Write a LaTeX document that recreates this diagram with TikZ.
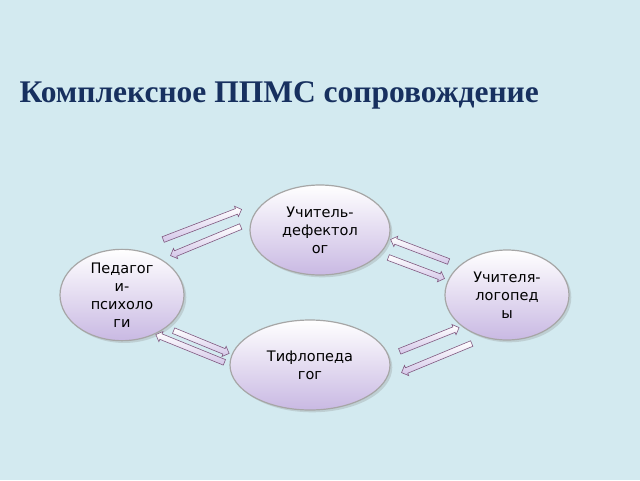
\documentclass[tikz,border=0pt]{standalone}
\usepackage{fontspec}
\setmainfont{Liberation Serif}
\newfontfamily\dv{DejaVu Sans}
\usetikzlibrary{shapes.arrows,shapes.geometric,shadows}
\definecolor{bg}{HTML}{D3EAF0}
\definecolor{lav}{HTML}{C9B9E3}
\definecolor{navy}{HTML}{17305F}
\tikzset{
 oval/.style={ellipse,draw=gray!70,line width=1.2pt,top color=white,bottom color=lav,drop shadow={opacity=0.25},align=center,font=\dv\fontsize{14.5}{18}\selectfont,inner sep=0pt},
 barrow/.style={single arrow,draw=gray!70!violet,line width=0.6pt,top color=white,bottom color=lav!80,minimum width=11pt,single arrow head extend=2.5pt,single arrow head indent=0pt,inner sep=2.6pt}
}
\begin{document}
\begin{tikzpicture}[x=1pt,y=-1pt]
\fill[bg] (0,0) rectangle (640,480);
\useasboundingbox (0,0) rectangle (640,480);
\node[anchor=west,text=navy,font=\bfseries\fontsize{31.5}{36}\selectfont] (title) at (16,95) {Комплексное ППМС сопровождение};
\node[oval,minimum width=140pt,minimum height=90pt] (td) at (320,230) {Учитель-\\дефектол\\ог};
\node[oval,minimum width=124pt,minimum height=90pt] (pp) at (122,295) {Педагог\\и-\\психоло\\ги};
\node[oval,minimum width=124pt,minimum height=90pt] (ul) at (507,295) {Учителя-\\логопед\\ы};
\node[oval,minimum width=160pt,minimum height=90pt] (tf) at (310,365) {Тифлопеда\\гог};
\node[barrow,minimum height=84pt,rotate=21] (a1) at (201,225) {};
\node[barrow,minimum height=76pt,rotate=202.5] (a2) at (207,240.5) {};
\node[barrow,minimum height=62pt,rotate=159.2] (a3) at (421,251) {};
\node[barrow,minimum height=60pt,rotate=-20.6] (a4) at (415,267.5) {};
\node[barrow,minimum height=60pt,rotate=-22.3] (a5) at (200,341.5) {};
\node[barrow,minimum height=74pt,rotate=157.9] (a6) at (191.5,349) {};
\node[barrow,minimum height=64pt,rotate=21.8] (a7) at (428,340) {};
\node[barrow,minimum height=76pt,rotate=202.5] (a8) at (438,357.5) {};
\end{tikzpicture}
\end{document}
